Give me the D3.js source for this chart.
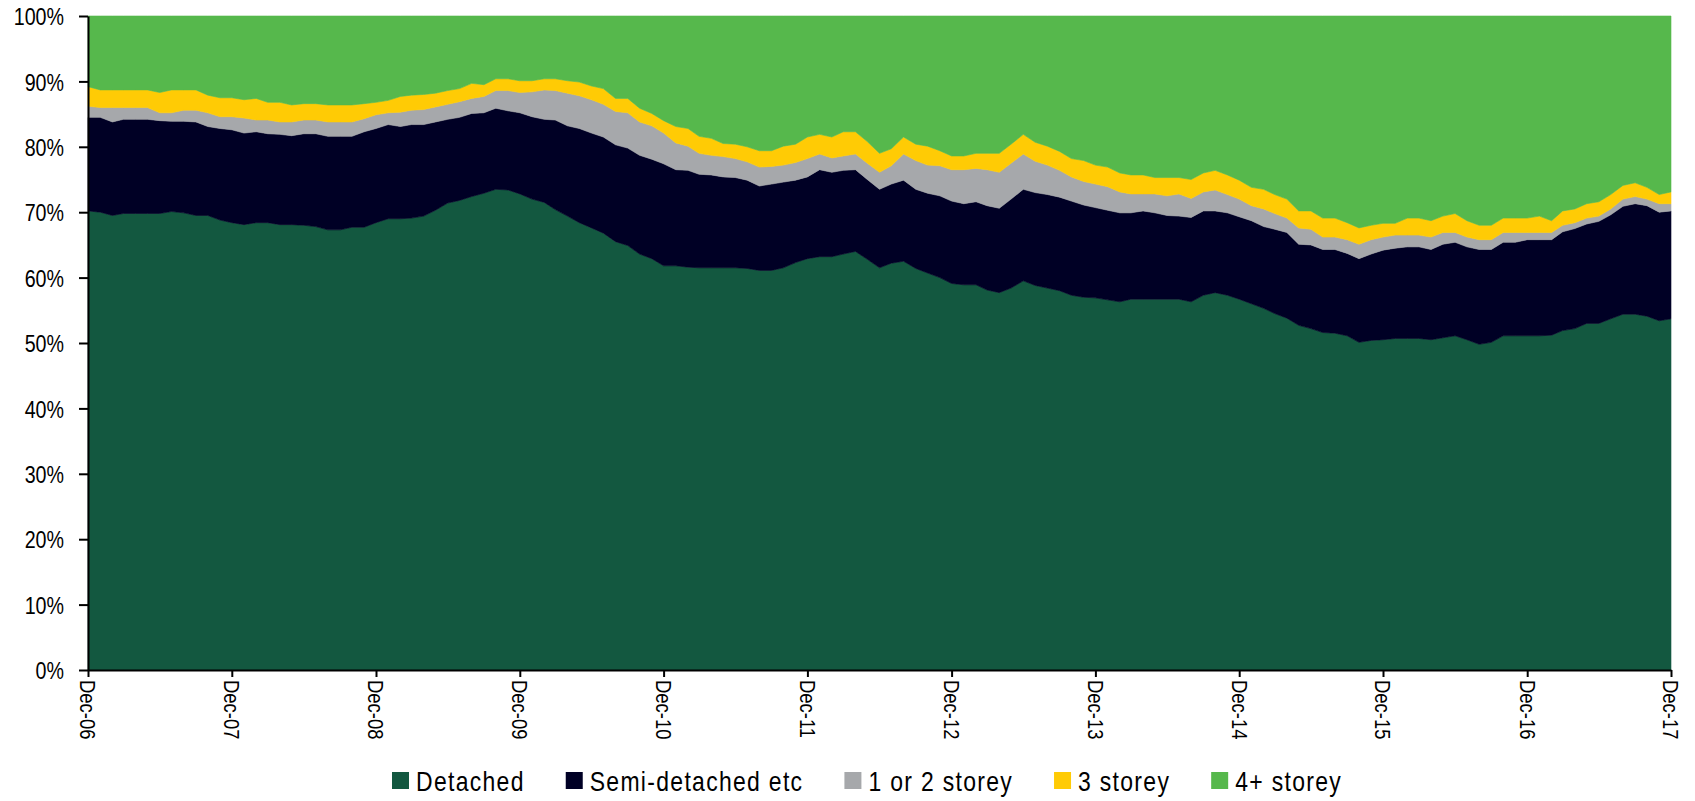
<!DOCTYPE html>
<html>
<head>
<meta charset="utf-8">
<script src="https://cdn.jsdelivr.net/npm/d3@7"></script>
<style>
  body { margin: 0; background: #fff; }
  text { font-family: "Liberation Sans", Arial, sans-serif; fill: #000; }
</style>
</head>
<body>
<div id="chart"></div>
<script>
// Share of dwelling approvals by type, monthly Dec-06 .. Dec-17 (per cent)
var detached = [
  70.2,70.0,69.5,69.8,69.8,69.8,69.8,70.1,69.9,69.5,
  69.5,68.8,68.4,68.1,68.4,68.4,68.1,68.1,68.0,67.8,
  67.3,67.3,67.7,67.7,68.4,69.0,69.0,69.1,69.4,70.3,
  71.4,71.8,72.4,72.9,73.5,73.4,72.8,72.0,71.5,70.4,
  69.4,68.4,67.6,66.8,65.5,64.9,63.6,62.9,61.8,61.8,
  61.6,61.5,61.5,61.5,61.5,61.4,61.1,61.1,61.5,62.3,
  62.9,63.2,63.2,63.6,64.0,62.8,61.5,62.2,62.5,61.4,
  60.7,60.0,59.1,58.9,58.9,58.1,57.7,58.4,59.5,58.8,
  58.4,58.0,57.3,57.0,56.9,56.6,56.3,56.7,56.7,56.7,
  56.7,56.7,56.3,57.3,57.7,57.3,56.7,56.0,55.3,54.5,
  53.8,52.7,52.2,51.6,51.5,51.1,50.1,50.4,50.5,50.7,
  50.7,50.7,50.5,50.8,51.1,50.5,49.8,50.1,51.1,51.1,
  51.1,51.1,51.2,51.9,52.2,53.0,53.0,53.7,54.4,54.4,
  54.1,53.4,53.7];
var semiDetached = [
  14.3,14.5,14.3,14.4,14.4,14.4,14.2,13.8,14.0,14.3,
  13.6,14.0,14.2,14.0,13.9,13.6,13.8,13.6,14.0,14.2,
  14.3,14.3,13.9,14.6,14.4,14.4,14.1,14.3,14.0,13.5,
  12.8,12.7,12.7,12.3,12.4,12.1,12.4,12.6,12.7,13.7,
  13.8,14.4,14.5,14.7,14.8,14.9,15.1,15.2,15.6,14.7,
  14.8,14.3,14.2,13.9,13.8,13.5,12.9,13.2,13.1,12.6,
  12.5,13.3,12.9,12.8,12.5,12.2,12.0,12.1,12.4,12.1,
  12.2,12.5,12.6,12.4,12.7,12.9,12.9,13.6,14.0,14.2,
  14.3,14.3,14.4,14.1,13.8,13.7,13.6,13.2,13.5,13.2,
  12.8,12.7,12.9,12.9,12.5,12.6,12.6,12.7,12.5,12.9,
  13.1,12.4,12.8,12.7,12.8,12.6,12.8,13.2,13.7,13.8,
  14.0,14.0,13.8,14.3,14.3,14.2,14.5,14.2,14.3,14.3,
  14.7,14.7,14.6,15.1,15.3,15.2,15.6,15.9,16.5,16.9,
  16.9,16.6,16.5];
var oneTwoStorey = [
  1.7,1.5,2.2,1.8,1.8,1.8,1.2,1.3,1.7,1.8,
  2.1,1.8,2.0,2.3,1.8,2.1,1.9,2.1,2.1,2.1,
  2.2,2.2,2.2,2.0,2.1,1.8,2.2,2.2,2.3,2.3,
  2.3,2.4,2.3,2.5,2.7,3.1,3.1,3.8,4.5,4.5,
  5.0,5.0,5.1,5.0,5.1,5.4,5.1,5.1,4.7,4.1,
  3.7,3.2,3.0,3.1,2.9,2.8,2.9,2.7,2.6,2.7,
  2.8,2.4,2.2,2.2,2.4,2.5,2.6,2.8,4.0,4.4,
  4.3,4.6,4.8,5.2,5.1,5.5,5.5,5.5,5.4,4.8,
  4.5,4.1,3.7,3.6,3.6,3.6,3.2,2.9,2.6,2.9,
  3.0,3.4,2.9,2.9,3.2,2.8,2.7,2.3,2.7,2.4,
  2.2,2.5,2.4,1.9,1.9,2.1,2.2,2.2,2.0,2.0,
  1.8,1.8,1.9,1.8,1.5,1.5,1.5,1.5,1.5,1.5,
  1.1,1.1,1.1,1.0,0.9,0.9,0.8,0.9,1.1,1.1,
  1.0,1.3,1.1];
var threeStorey = [
  3.0,2.7,2.7,2.7,2.7,2.7,3.1,3.5,3.1,3.1,
  2.7,2.9,2.9,2.8,3.3,2.7,3.0,2.6,2.5,2.5,
  2.6,2.6,2.6,2.3,1.9,1.9,2.4,2.3,2.3,2.1,
  2.1,2.0,2.3,1.8,1.8,1.8,1.8,1.7,1.7,1.8,
  1.9,2.1,2.1,2.4,2.0,2.2,2.1,1.9,1.9,2.5,
  2.7,2.6,2.6,2.0,2.2,2.3,2.5,2.4,2.9,2.8,
  3.3,3.0,3.2,3.7,3.4,3.3,2.9,2.6,2.6,2.5,
  2.9,2.3,2.1,2.1,2.3,2.5,2.9,2.9,3.0,2.9,
  2.9,2.9,2.8,3.2,2.9,3.0,2.9,2.9,2.9,2.5,
  2.8,2.5,2.9,2.9,3.0,3.0,2.9,2.8,3.0,2.9,
  2.9,2.6,2.8,2.9,2.9,2.6,2.5,2.2,2.1,1.8,
  2.6,2.6,2.5,2.5,2.9,2.5,2.2,2.2,2.2,2.2,
  2.2,2.5,1.8,2.2,2.1,2.2,2.2,2.2,2.1,2.1,
  1.8,1.4,1.8];
var fourPlusStorey = [
  10.8,11.3,11.3,11.3,11.3,11.3,11.7,11.3,11.3,11.3,
  12.1,12.5,12.5,12.8,12.6,13.2,13.2,13.6,13.4,13.4,
  13.6,13.6,13.6,13.4,13.2,12.9,12.3,12.1,12.0,11.8,
  11.4,11.1,10.3,10.5,9.6,9.6,9.9,9.9,9.6,9.6,
  9.9,10.1,10.7,11.1,12.6,12.6,14.1,14.9,16.0,16.9,
  17.2,18.4,18.7,19.5,19.6,20.0,20.6,20.6,19.9,19.6,
  18.5,18.1,18.5,17.7,17.7,19.2,21.0,20.3,18.5,19.6,
  19.9,20.6,21.4,21.4,21.0,21.0,21.0,19.6,18.1,19.3,
  19.9,20.7,21.8,22.1,22.8,23.1,24.0,24.3,24.3,24.7,
  24.7,24.7,25.0,24.0,23.6,24.3,25.1,26.2,26.5,27.3,
  28.0,29.8,29.8,30.9,30.9,31.6,32.4,32.0,31.7,31.7,
  30.9,30.9,31.3,30.6,30.2,31.3,32.0,32.0,30.9,30.9,
  30.9,30.6,31.3,29.8,29.5,28.7,28.4,27.3,25.9,25.5,
  26.2,27.3,26.9];

var seriesNames = ["Detached", "Semi-detached etc", "1 or 2 storey", "3 storey", "4+ storey"];
var seriesColors = ["#135840", "#000025", "#a6a8ab", "#ffcb05", "#56b84c"];
var yTicks = [0, 0.1, 0.2, 0.3, 0.4, 0.5, 0.6, 0.7, 0.8, 0.9, 1];

var width = 1695,
    height = 801;
var plotLeft = 88,
    plotRight = 1671,
    plotTop = 16,
    plotBottom = 670;
var narrow = 0.82; // squeeze regular sans to an Arial Narrow look

// Prepare data for d3
var allSeries = [detached, semiDetached, oneTwoStorey, threeStorey, fourPlusStorey];
var rows = [];
for (var i = 0; i < detached.length; i++) {
  var row = { date: new Date(2006, 11 + i, 1) };
  seriesNames.forEach(function(name, k) { row[name] = allSeries[k][i]; });
  rows.push(row);
}

var stacked = d3.stack()
  .keys(seriesNames)
  .offset(d3.stackOffsetExpand)(rows);

var x = d3.scaleTime()
  .domain(d3.extent(rows, function(d) { return d.date; }))
  .range([plotLeft, plotRight]);

var y = d3.scaleLinear()
  .domain([0, 1])
  .range([plotBottom, plotTop]);

var svg = d3.select("#chart").append("svg")
  .attr("width", width)
  .attr("height", height);

// AREAS.
var area = d3.area()
  .x(function(d) { return x(d.data.date); })
  .y0(function(d) { return y(d[0]); })
  .y1(function(d) { return y(d[1]); });

svg.selectAll(".layer")
  .data(stacked).enter()
  .append("path")
  .attr("class", "layer")
  .attr("d", area)
  .attr("fill", function(d, k) { return seriesColors[k]; })
  .attr("stroke", function(d, k) { return seriesColors[k]; })
  .attr("stroke-width", 0.6);

// Y AXIS.
var yAxis = svg.append("g")
  .attr("transform", "translate(" + plotLeft + ",0)")
  .call(d3.axisLeft(y)
    .tickValues(yTicks)
    .tickFormat(d3.format(".0%"))
    .tickSize(9)
    .tickSizeOuter(0));
yAxis.selectAll("text")
  .attr("font-size", "24px")
  .attr("x", -24 / narrow)
  .attr("dy", "0.36em")
  .attr("transform", "scale(" + narrow + ",1)");

// X AXIS.
var decTicks = rows
  .filter(function(d) { return d.date.getMonth() === 11; })
  .map(function(d) { return d.date; });

var xAxis = svg.append("g")
  .attr("transform", "translate(0," + plotBottom + ")")
  .call(d3.axisBottom(x)
    .tickValues(decTicks)
    .tickFormat(d3.timeFormat("%b-%y"))
    .tickSize(7)
    .tickSizeOuter(0));
xAxis.selectAll("text")
  .attr("font-size", "22.5px")
  .attr("transform", "rotate(90) scale(" + narrow + ",1)")
  .attr("x", 10 / narrow)
  .attr("y", 0)
  .attr("dy", "0.36em")
  .attr("text-anchor", "start");

svg.selectAll(".domain, .tick line")
  .attr("stroke", "#000")
  .attr("stroke-width", 2);
svg.selectAll("g").attr("font-family", null);

// LEGEND.
var legend = svg.append("g")
  .attr("transform", "translate(392,781)");

var cursor = 0;
seriesNames.forEach(function(name, k) {
  var item = legend.append("g")
    .attr("transform", "translate(" + cursor + ",0)");
  item.append("rect")
    .attr("x", 0)
    .attr("y", -9)
    .attr("width", 17)
    .attr("height", 17)
    .attr("fill", seriesColors[k]);
  var label = item.append("text")
    .attr("transform", "translate(24,0) scale(" + narrow + ",1)")
    .attr("dy", "0.36em")
    .attr("font-size", "28px")
    .attr("letter-spacing", "1.6px")
    .text(name);
  cursor += 24 + label.node().getComputedTextLength() * narrow + 41;
});
</script>
</body>
</html>
